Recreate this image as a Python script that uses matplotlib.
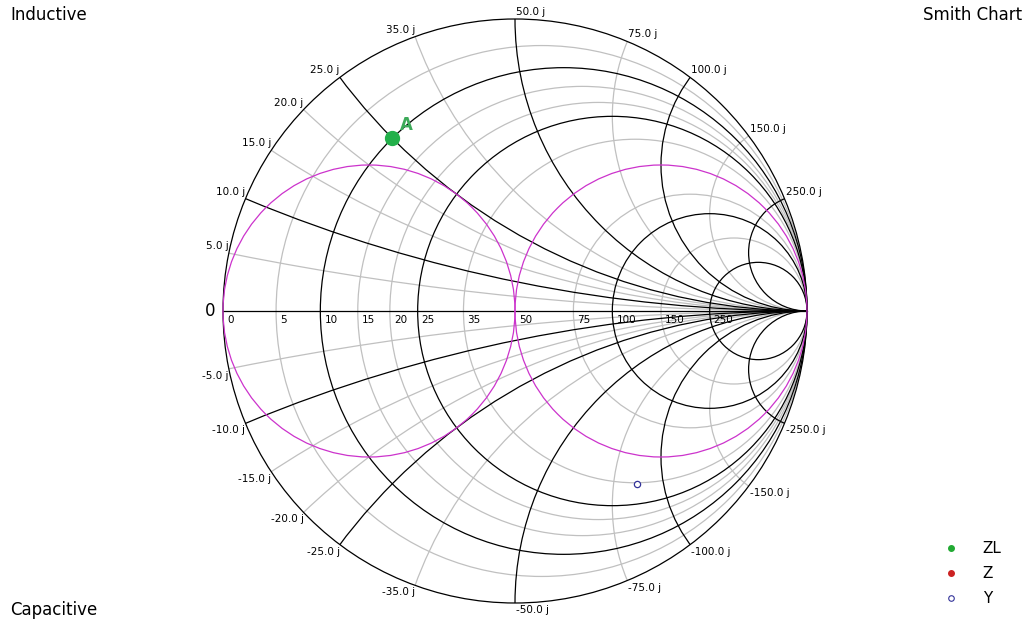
import matplotlib
matplotlib.use("Agg")
import matplotlib.pyplot as plt
from matplotlib.patches import Circle
from matplotlib.lines import Line2D
import numpy as np

Z0 = 50.0

# grid values (ohms)
r_values = [5, 10, 15, 20, 25, 35, 50, 75, 100, 150, 250]
r_black = [10, 25, 100, 250]
x_values = [5, 10, 15, 20, 25, 35, 50, 75, 100, 150, 250]
x_black = [10, 25, 50, 100, 250]

# plotted points
zl_r = [10.0]      # load resistance (ohm)
zl_x = [25.0]      # load reactance (ohm)
zl_names = ["A"]
y_g = [0.69]       # normalized admittance, real part
y_b = [-1.72]      # normalized admittance, imag part

GRAY = "#c0c0c0"
MAGENTA = "#cc33cc"
GREEN = "#22b04a"


def gamma(z):
    return (z - 1) / (z + 1)


fig = plt.figure(figsize=(10.29, 6.25), dpi=100)
ax = fig.add_axes([0, 0, 1, 1])
cx, cy, R = 515.0, 311.0, 292.0
ax.set_xlim(-cx / R, (1029 - cx) / R)
ax.set_ylim(-(625 - cy) / R, cy / R)
ax.axis("off")

unit = Circle((0, 0), 1, fill=False, ec="black", lw=0.9, zorder=3)
ax.add_patch(unit)

# resistance circles
for r in r_values:
    rn = r / Z0
    if r == 50:
        col, z = MAGENTA, 4
    elif r in r_black:
        col, z = "black", 3
    else:
        col, z = GRAY, 2
    ax.add_patch(Circle((rn / (1 + rn), 0), 1 / (1 + rn), fill=False, ec=col, lw=0.9, zorder=z))

# admittance g = 1 circle
ax.add_patch(Circle((-0.5, 0), 0.5, fill=False, ec=MAGENTA, lw=0.9, zorder=4))

# reactance circles, clipped to the unit circle
for x in x_values:
    xn = x / Z0
    col = "black" if x in x_black else GRAY
    z = 3 if x in x_black else 2
    for s in (1, -1):
        c = Circle((1, s / xn), 1 / xn, fill=False, ec=col, lw=0.9, zorder=z)
        ax.add_patch(c)
        c.set_clip_path(unit)

ax.plot([-1, 1], [0, 0], color="black", lw=0.9, zorder=3)

# resistance labels
for r in [0] + r_values:
    g = gamma(r / Z0)
    ax.annotate(str(r), (g, 0), xytext=(4, -4), textcoords="offset pixels",
                ha="left", va="top", fontsize=7.5, zorder=6)

# reactance labels
for x in x_values:
    for s in (1, -1):
        g = gamma(1j * s * x / Z0)
        ha = "right" if g.real < -1e-9 else "left"
        va = "bottom" if s > 0 else "top"
        dx = 1 if ha == "left" else 0
        ax.annotate("%.1f j" % (s * x), (g.real, g.imag), xytext=(dx, 2 * s),
                    textcoords="offset pixels", ha=ha, va=va, fontsize=7.5, zorder=6)

ax.text(-1.0 - 8 / R, 0, "0", ha="right", va="center", fontsize=12)

# load point
for r, x, name in zip(zl_r, zl_x, zl_names):
    g = gamma(complex(r, x) / Z0)
    ax.plot(g.real, g.imag, "o", ms=10, color=GREEN, zorder=7)
    ax.annotate(name, (g.real, g.imag), xytext=(8, 8), textcoords="offset pixels",
                color="#3daa5a", fontsize=12, fontweight="bold", zorder=7)

# admittance point
for gg, bb in zip(y_g, y_b):
    g = gamma(complex(gg, bb))
    ax.plot(g.real, g.imag, "o", ms=4.5, mfc="white", mec="#333399", mew=0.9, zorder=7)

fig.text(10 / 1029, 1 - 6 / 625, "Inductive", ha="left", va="top", fontsize=12)
fig.text(1 - 7 / 1029, 1 - 6 / 625, "Smith Chart", ha="right", va="top", fontsize=12)
fig.text(10 / 1029, 6 / 625, "Capacitive", ha="left", va="bottom", fontsize=12)

handles = [
    Line2D([], [], ls="", marker="o", ms=4, color="#22aa33", mec="#22aa33"),
    Line2D([], [], ls="", marker="o", ms=4, color="#cc2222", mec="#cc2222"),
    Line2D([], [], ls="", marker="o", ms=4, mfc="white", mec="#333399", mew=0.8),
]
fig.legend(handles, ["ZL", "Z", "Y"], loc="upper left", bbox_to_anchor=(943 / 1029, 1 - 541 / 625),
           frameon=False, fontsize=11, handlelength=1, handletextpad=1.6,
           labelspacing=0.65, borderpad=0, borderaxespad=0)

fig.savefig("out.png", dpi=100)
